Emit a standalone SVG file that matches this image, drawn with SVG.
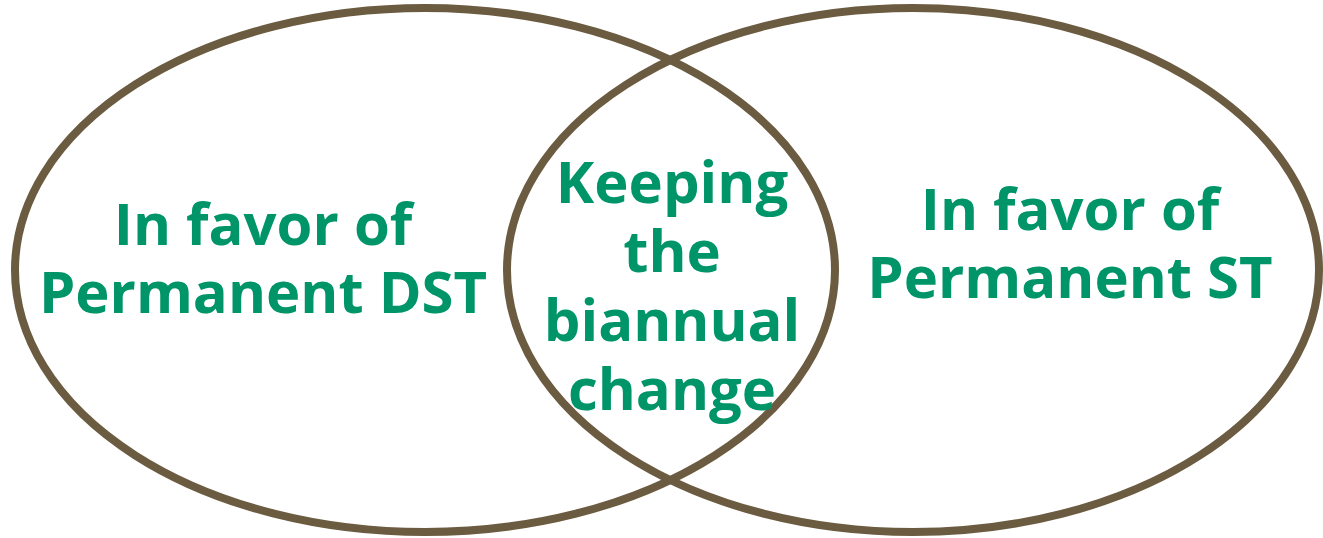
<svg xmlns="http://www.w3.org/2000/svg" width="1323" height="538" viewBox="0 0 1323 538">
<style>
.c{fill:none;stroke:#6B5B40;stroke-width:8}
.t{font-family:"Open Sans",sans-serif;font-weight:bold;font-size:58px;fill:#009569;text-anchor:middle}
</style>
<rect width="1323" height="538" fill="#fff"/>
<g id="left"><ellipse class="c" cx="425" cy="270" rx="410" ry="262"/>
<text class="t" x="263" y="245">In favor of</text><text class="t" x="263" y="313">Permanent DST</text></g>
<g id="right"><ellipse class="c" cx="913" cy="270" rx="406" ry="262"/>
<text class="t" x="1070" y="230">In favor of</text><text class="t" x="1070" y="298">Permanent ST</text></g>
<g id="middle">
<text class="t" x="672" y="203">Keeping</text><text class="t" x="672" y="272">the</text><text class="t" x="672" y="341">biannual</text><text class="t" x="672" y="410">change</text></g>
</svg>
